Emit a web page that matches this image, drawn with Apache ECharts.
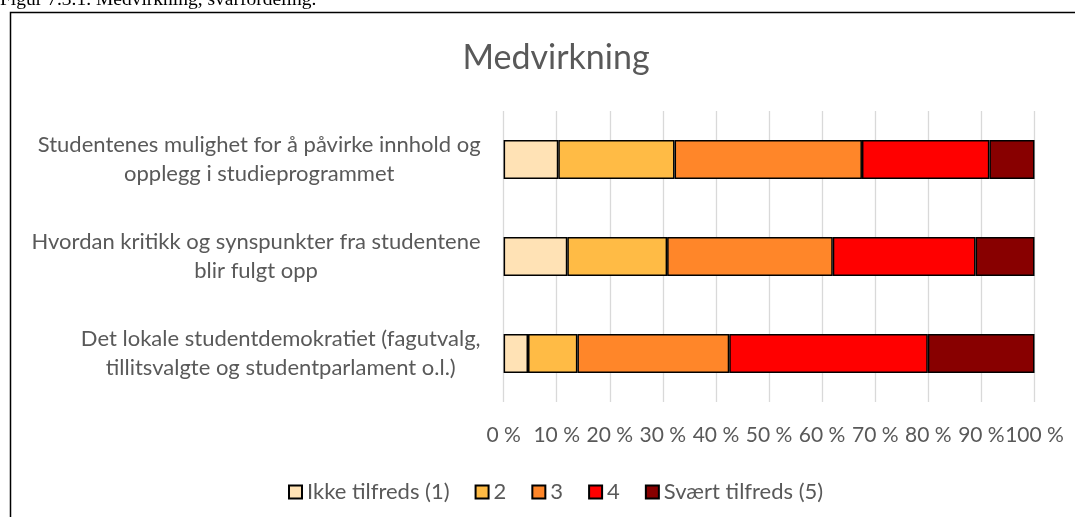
<!DOCTYPE html>
<html><head><meta charset="utf-8">
<script src="https://cdn.jsdelivr.net/npm/echarts@6/dist/echarts.min.js"></script>
<style>html,body{margin:0;padding:0;background:#fff}#c{width:1075px;height:517px}</style>
</head><body><div id="c"></div>
<script>
// ---- data ----
const caption = "Figur 7.3.1. Medvirkning, svarfordeling.";
const chartTitle = "Medvirkning";
const categories = [
  "Studentenes mulighet for å påvirke innhold og opplegg i studieprogrammet",
  "Hvordan kritikk og synspunkter fra studentene blir fulgt opp",
  "Det lokale studentdemokratiet (fagutvalg, tillitsvalgte og studentparlament o.l.)"
];
const seriesNames = ["Ikke tilfreds (1)", "2", "3", "4", "Svært tilfreds (5)"];
const s1 = [10.3, 12.0, 4.6];
const s2 = [21.9, 18.8, 9.3];
const s3 = [35.3, 31.2, 28.6];
const s4 = [24.0, 26.9, 37.4];
const s5 = [8.5, 11.1, 20.1];
const tickSuffix = " %";

// ---- styling ----
const colors = ["#FFE2B5", "#FFBB45", "#FF8629", "#FF0000", "#880000"];
const FONT = "Lato";
const FS = 22;
const TXT = "#595959";

const ctx = document.createElement("canvas").getContext("2d");
ctx.font = FS + "px " + FONT;
function wrap(text, maxW) {
  const words = text.split(" ");
  const lines = [];
  let cur = "";
  for (const w of words) {
    const t = cur ? cur + " " + w : w;
    if (ctx.measureText(t).width > maxW && cur) { lines.push(cur); cur = w; }
    else cur = t;
  }
  lines.push(cur);
  return lines;
}
const wrapped = categories.map(c => wrap(c, 465));

// legend centred around x=548
let legW = 0;
seriesNames.forEach(n => { legW += 13 + 5 + ctx.measureText(n).width; });
legW += 25 * (seriesNames.length - 1);
const legLeft = Math.round(548 - legW / 2);

const dataSets = [s1, s2, s3, s4, s5];
const series = seriesNames.map((n, i) => ({
  name: n,
  type: "bar",
  stack: "total",
  barWidth: "40%",
  data: dataSets[i],
  itemStyle: { color: colors[i], borderColor: "#000", borderWidth: 1.5 },
  emphasis: { disabled: true }
}));

const chart = echarts.init(document.getElementById("c"));
chart.setOption({
  animation: false,
  title: {
    text: chartTitle,
    left: 551, textAlign: "center", top: 36,
    textStyle: { fontFamily: FONT, fontSize: 34, fontWeight: "normal", color: TXT }
  },
  grid: { left: 503.6, right: 40.5, top: 111, bottom: 115, containLabel: false },
  xAxis: {
    type: "value", min: 0, max: 100, interval: 10,
    axisLine: { show: false }, axisTick: { show: false },
    splitLine: { show: true, lineStyle: { color: "#d9d9d9", width: 1.3 } },
    axisLabel: { formatter: v => v + tickSuffix, fontFamily: FONT, fontSize: 21, color: TXT, margin: 23,
      showMinLabel: true, showMaxLabel: true, hideOverlap: false }
  },
  yAxis: {
    type: "category", data: categories, inverse: true,
    axisLine: { show: false }, axisTick: { show: false },
    axisLabel: {
      align: "right", margin: 23,
      formatter: (v, idx) => wrapped[idx].map(l => "{c|" + l + "}").join("\n"),
      rich: { c: { align: "center", fontFamily: FONT, fontSize: FS, color: TXT, lineHeight: 29 } }
    }
  },
  legend: {
    data: seriesNames, left: legLeft, top: 476,
    itemWidth: 13, itemHeight: 13, itemGap: 25, icon: "rect",
    textStyle: { fontFamily: FONT, fontSize: FS, color: TXT }
  },
  graphic: [
    { type: "rect", silent: true, z: -1,
      shape: { x: 10.5, y: 12.5, width: 1200, height: 600 },
      style: { fill: "none", stroke: "#000", lineWidth: 1.5 } },
    { type: "text", silent: true, x: 0, y: 0,
      style: { text: caption, font: '19.5px "Liberation Serif"', fill: "#000", verticalAlign: "middle" } }
  ],
  series: series
});
</script>
</body></html>
